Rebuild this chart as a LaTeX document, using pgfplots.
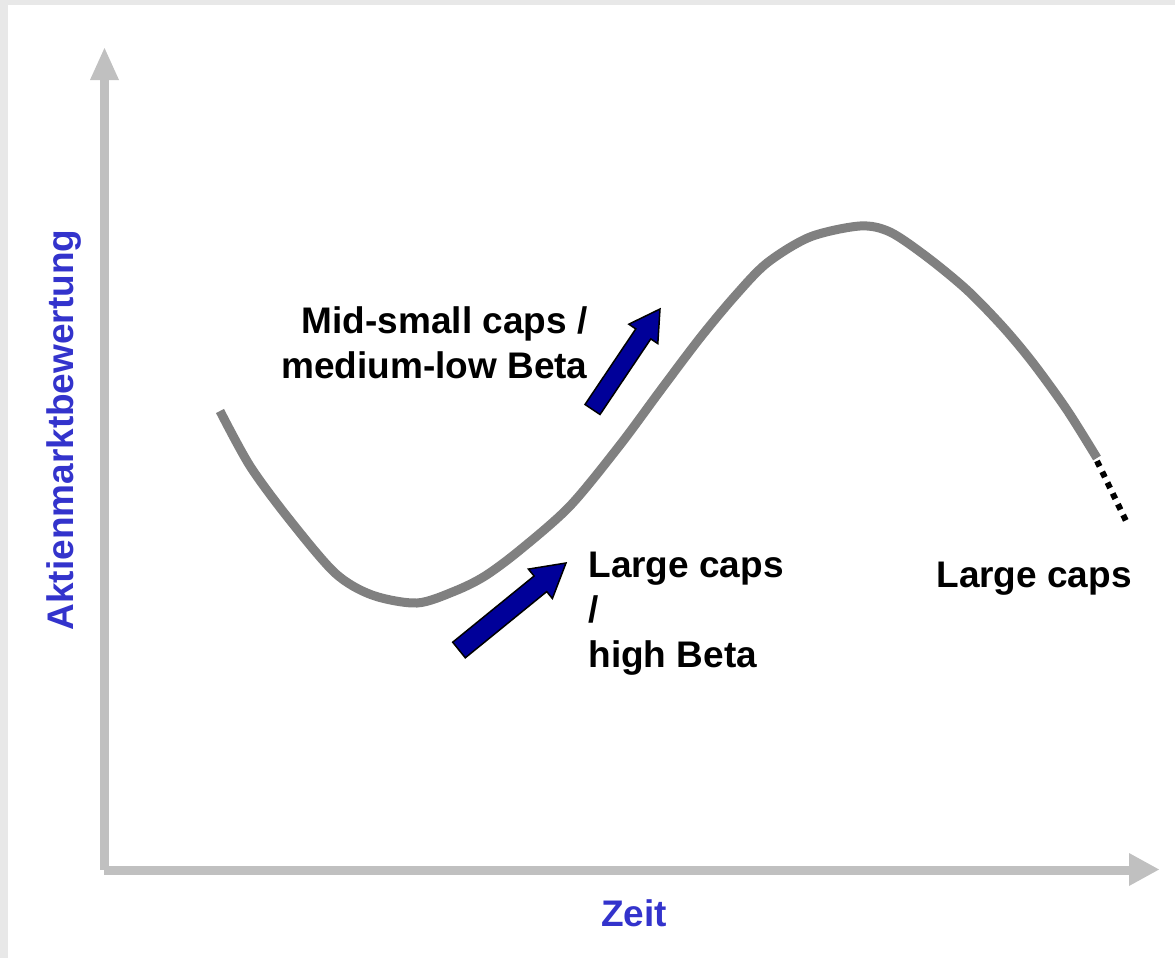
\documentclass[border=0pt]{standalone}
\usepackage{fontspec}
\setmainfont{Liberation Sans}
\usepackage{pgfplots}
\pgfplotsset{compat=1.18}
\definecolor{framegray}{RGB}{232,232,232}
\definecolor{axgray}{RGB}{192,192,192}
\definecolor{curvegray}{RGB}{128,128,128}
\definecolor{arrowblue}{RGB}{0,0,153}
\definecolor{labelblue}{RGB}{51,51,204}
\tikzset{lbl/.style={inner sep=0pt, font=\fontsize{18.5}{22}\selectfont\bfseries}}
\begin{document}
\begin{tikzpicture}
\begin{axis}[
  width=587.5pt, height=479pt, scale only axis,
  xmin=0, xmax=1175, ymin=0, ymax=958, y dir=reverse,
  hide axis, clip=false,
]
% frame
\addplot[draw=none, fill=framegray] coordinates {(0,0) (1175,0) (1175,958) (0,958)} -- cycle;
\addplot[draw=none, fill=white] coordinates {(8,5) (1175,5) (1175,958) (8,958)} -- cycle;
% y axis arrow
\addplot[draw=none, fill=axgray] coordinates {(100,79) (109,79) (109,870) (100,870)} -- cycle;
\addplot[draw=none, fill=axgray] coordinates {(90,80) (119,80) (104.5,48)} -- cycle;
% x axis arrow
\addplot[draw=none, fill=axgray] coordinates {(104,866) (1130,866) (1130,875) (104,875)} -- cycle;
\addplot[draw=none, fill=axgray] coordinates {(1129,853) (1159,869.5) (1129,886)} -- cycle;
% curve
\addplot[curvegray, line width=4.5pt, smooth, tension=0.5] coordinates {
(220,411) (250,466) (289,519) (335,573) (372,595) (417,603)
(455,591) (485,576) (520,550) (570,506) (620,445) (660,391) (700,338)
(735,296) (767,263) (810,237) (860,226) (890,232) (927,257) (967,290)
(1003,327) (1033,363) (1067,410) (1097,458)};
\addplot[black, line width=3pt, dash pattern=on 3pt off 3pt] coordinates {(1097,461) (1128,525)};
% blue arrows
\addplot[fill=arrowblue, draw=black, line width=0.75pt, line join=miter] coordinates {
(452.7,642.2) (534.1,576.0) (528.4,569.1) (566,563) (552.4,598.5) (546.7,591.6) (465.3,657.8)} -- cycle;
\addplot[fill=arrowblue, draw=black, line width=0.75pt, line join=miter] coordinates {
(585.0,404.5) (635.8,328.9) (628.8,324.2) (660,309) (657.8,343.6) (650.8,338.9) (600.0,414.5)} -- cycle;
% labels
\node[lbl, anchor=base east] at (axis cs:588,333) {Mid-small caps /};
\node[lbl, anchor=base east] at (axis cs:588,378) {medium-low Beta};
\node[lbl, anchor=base west] at (axis cs:588,577) {Large caps};
\node[lbl, anchor=base west] at (axis cs:588,622) {/};
\node[lbl, anchor=base west] at (axis cs:588,667) {high Beta};
\node[lbl, anchor=base west] at (axis cs:936,587) {Large caps};
\node[lbl, anchor=base, text=labelblue] at (axis cs:634,926) {Zeit};
\node[lbl, anchor=base, text=labelblue, rotate=90] at (axis cs:73,430) {Aktienmarktbewertung};
\end{axis}
\end{tikzpicture}
\end{document}
